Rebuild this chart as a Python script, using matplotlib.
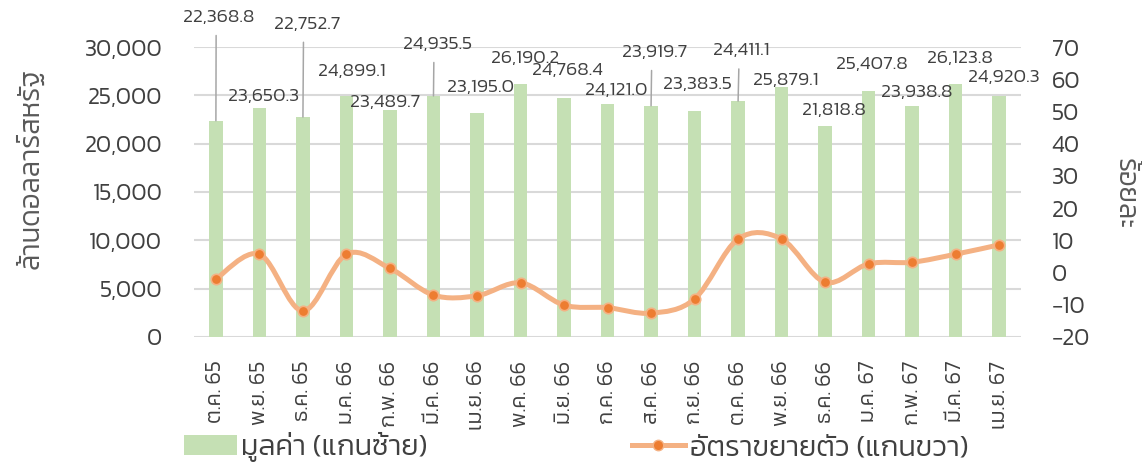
import numpy as np
import matplotlib
matplotlib.use('Agg')
import matplotlib.pyplot as plt
from matplotlib.path import Path
from matplotlib.patches import PathPatch, Patch
from matplotlib.lines import Line2D

plt.rcParams['font.family'] = ['Kanit', 'DejaVu Sans']
plt.rcParams['font.weight'] = 300

months = ['ต.ค. 65', 'พ.ย. 65', 'ธ.ค. 65', 'ม.ค. 66', 'ก.พ. 66', 'มี.ค. 66', 'เม.ย. 66',
          'พ.ค. 66', 'มิ.ย. 66', 'ก.ค. 66', 'ส.ค. 66', 'ก.ย. 66', 'ต.ค. 66', 'พ.ย. 66',
          'ธ.ค. 66', 'ม.ค. 67', 'ก.พ. 67', 'มี.ค. 67', 'เม.ย. 67']
value = [22368.8, 23650.3, 22752.7, 24899.1, 23489.7, 24935.5, 23195.0, 26190.2, 24768.4,
         24121.0, 23919.7, 23383.5, 24411.1, 25879.1, 21818.8, 25407.8, 23938.8, 26123.8, 24920.3]
growth = [-2.0, 5.7, -11.9, 5.7, 1.3, -7.0, -7.2, -3.2, -10.1,
          -10.9, -12.6, -8.2, 10.4, 10.4, -3.0, 2.7, 3.2, 5.7, 8.6]

# label offsets from bar top, in pixels (dx, dy up), and which ones get a leader line
lab_dx = [3, 4, 4, 5, -4.6, 4, 4, 4.4, 3.5, 9, 4, 3.3, 3.5, 4, 9, 3.7, 4.3, 4, 4.4]
lab_dy = [103.5, 11.7, 93, 25.3, 7.2, 51.7, 25.5, 25.5, 26.6, 13.8, 53.5, 26, 50.3, 6.8, 15.1, 26.4, 13.3, 25.5, 18.4]
leader = [0, 2, 5, 10, 12]

bar_c = '#c5e0b4'
line_c = '#f4b183'
mark_c = '#ed7d31'
txt_c = '#404040'

fig = plt.figure(figsize=(11.42, 4.65), dpi=100)
ax = fig.add_axes([0.170, 0.2753, 0.724, 0.6236])
ax2 = ax.twinx()

x = np.arange(len(months))
ax.bar(x, value, width=0.31, color=bar_c, zorder=2)
ax.set_xlim(-0.5, len(months) - 0.5)
ax.set_ylim(0, 30000)
ax.set_yticks(np.arange(0, 30001, 5000))
ax.yaxis.set_major_formatter(matplotlib.ticker.StrMethodFormatter('{x:,.0f}'))
ax.grid(axis='y', color='#d9d9d9', lw=1.5, zorder=0)
ax.set_axisbelow(True)
ax.set_xticks(x)
ax.set_xticklabels(months, rotation=90)
ax.tick_params(axis='x', length=0, pad=17, labelsize=15.5, labelcolor=txt_c)
ax.tick_params(axis='y', length=0, pad=23, labelsize=17, labelcolor=txt_c)
for s in ax.spines.values():
    s.set_visible(False)

px = 0.72
for i, v in enumerate(value):
    if i in leader:
        ap = dict(arrowstyle='-', color='#a6a6a6', lw=1.1, shrinkA=5, shrinkB=0,
                  relpos=(0.5 - lab_dx[i] / 78, 0))
    else:
        ap = None
    ax.annotate(f'{v:,.1f}', (i, v), xytext=(lab_dx[i] * px, lab_dy[i] * px),
                textcoords='offset points', ha='center', va='center',
                fontsize=14, color=txt_c, arrowprops=ap)

# smoothed growth line (Catmull-Rom style, like Excel's smoothed line)
pts = np.column_stack([x, growth]).astype(float)
verts = [pts[0]]
codes = [Path.MOVETO]
n = len(pts)
for i in range(n - 1):
    p0 = pts[max(i - 1, 0)]
    p1 = pts[i]
    p2 = pts[i + 1]
    p3 = pts[min(i + 2, n - 1)]
    verts += [p1 + (p2 - p0) / 6, p2 - (p3 - p1) / 6, p2]
    codes += [Path.CURVE4] * 3
ax2.add_patch(PathPatch(Path(verts, codes), fill=False, edgecolor=line_c, lw=3.6,
                        capstyle='round', joinstyle='round', zorder=3))
ax2.plot(x, growth, 'o', ls='none', ms=7.5, mfc=mark_c, mec=line_c, mew=1.2, zorder=4)
ax2.set_ylim(-20, 70)
ax2.set_yticks(np.arange(-20, 71, 10))
ax2.yaxis.set_major_formatter(matplotlib.ticker.FuncFormatter(lambda v, p: f'{v:.0f}'.replace('-', '−')))
ax2.tick_params(axis='y', length=0, pad=22, labelsize=17, labelcolor=txt_c)
for s in ax2.spines.values():
    s.set_visible(False)

fig.text(30 / 1142, 1 - 168 / 465, 'ล้านดอลลาร์สหรัฐ', rotation=90, ha='center', va='center',
         fontsize=20, color='#595959')
fig.text(1125 / 1142, 1 - 194 / 465, 'ร้อยละ', rotation=270, ha='center', va='center',
         fontsize=20, color='#595959')

handles = [Patch(facecolor=bar_c, edgecolor='none'),
           Line2D([], [], color=line_c, lw=3.6, marker='o', ms=7.5, mfc=mark_c, mec=line_c)]
fig.legend(handles, ['มูลค่า (แกนซ้าย)', 'อัตราขยายตัว (แกนขวา)'], loc='lower left',
           bbox_to_anchor=(184 / 1142, 0.006), ncol=2, frameon=False, fontsize=21,
           labelcolor=txt_c, handlelength=1.8, handleheight=0.7, handletextpad=0.17,
           columnspacing=7.0, borderpad=0, borderaxespad=0)

fig.savefig('out.png')
